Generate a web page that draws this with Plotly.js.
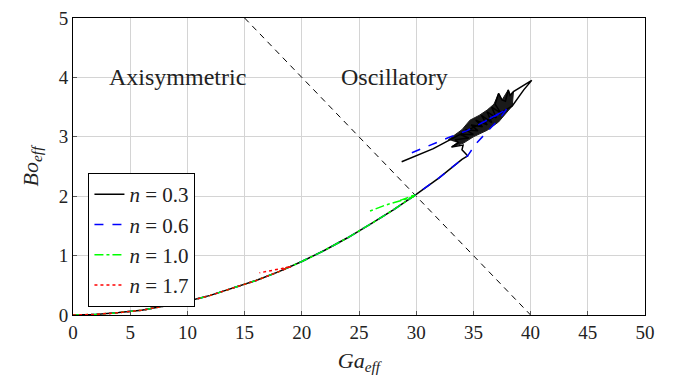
<!DOCTYPE html>
<html>
<head>
<meta charset="utf-8">
<script src="https://cdn.plot.ly/plotly-3.0.1.min.js"></script>
<style>html,body{margin:0;padding:0;background:#fff;}#chart{width:674px;height:377px;}</style>
</head>
<body>
<div id="chart"></div>
<script>
// Common steady branch
const curveGa = [0, 2, 4, 6, 8, 10, 12, 14, 16, 18, 19.1, 20, 22, 24, 26, 28, 30, 32, 34, 34.5];
const curveBo = [0, 0.01, 0.04, 0.08, 0.15, 0.23, 0.33, 0.45, 0.58, 0.73, 0.82, 0.9, 1.09, 1.3, 1.53, 1.77, 2.03, 2.31, 2.62, 2.68];

// n = 0.3 (black) oscillatory part after the steady branch
const blackTailGa = [34.0, 34.1, 33.1, 33.7, 33.4, 34.6, 33.8, 35.0, 34.3, 35.4, 34.8, 35.8, 35.2, 36.2, 35.7, 36.6, 36.2, 37.0, 36.6, 37.4, 36.9, 37.2, 37.5, 37.8, 38.05, 38.2, 38.5, 40.1, 39.4, 38.4, 37.9, 36.5, 35.0, 33.5, 31.5, 28.73];
const blackTailBo = [2.78, 2.86, 2.83, 2.90, 2.95, 2.98, 3.04, 3.04, 3.12, 3.10, 3.20, 3.17, 3.28, 3.20, 3.36, 3.24, 3.42, 3.32, 3.50, 3.40, 3.55, 3.73, 3.62, 3.60, 3.79, 3.70, 3.76, 3.95, 3.79, 3.52, 3.46, 3.30, 3.16, 3.00, 2.80, 2.58];
// envelope of the dense oscillation band of n = 0.3
const blobGa = [32.8, 34.0, 34.7, 35.5, 36.2, 36.8, 37.2, 37.5, 38.05, 38.2, 38.5, 38.4, 37.2, 36.2, 35.0, 34.1, 33.1, 33.6];
const blobBo = [2.95, 3.12, 3.28, 3.36, 3.45, 3.55, 3.73, 3.62, 3.79, 3.70, 3.76, 3.52, 3.25, 3.11, 3.00, 2.89, 2.83, 2.90];

// n = 0.6 (blue)
const blueTailGa = [35.2, 36.0, 36.8, 37.4, 37.9, 36.4, 37.7, 35.6, 37.2, 34.4, 33.0, 31.5, 29.6];
const blueTailBo = [2.88, 3.04, 3.20, 3.33, 3.47, 3.30, 3.44, 3.22, 3.38, 3.10, 3.00, 2.88, 2.73];

// n = 1.0 (green): steady branch up to Ga = 30, then
const greenTailGa = [28.6, 29.8, 28.0, 29.5, 27.3, 25.96];
const greenTailBo = [1.93, 1.99, 1.89, 1.97, 1.85, 1.75];

// n = 1.7 (red): steady branch up to Ga = 19.1, then
const redTailGa = [18.2, 19.0, 17.3, 16.3];
const redTailBo = [0.78, 0.81, 0.745, 0.71];

// Boundary between regimes
const boundaryGa = [15, 40];
const boundaryBo = [5, 0];

const seriesNames = ['<i>n</i> = 0.3', '<i>n</i> = 0.6', '<i>n</i> = 1.0', '<i>n</i> = 1.7'];
const regionLabels = ['Axisymmetric', 'Oscillatory'];
const regionGa = [9.1, 28.1];
const regionBo = [4.0, 4.0];

function upTo(limit) {
  const gx = [], gy = [];
  for (let i = 0; i < curveGa.length; i++) {
    if (curveGa[i] <= limit + 1e-9) { gx.push(curveGa[i]); gy.push(curveBo[i]); }
  }
  return [gx, gy];
}

const [bx, by] = upTo(34.5);
const [ux, uy] = upTo(34.5);
const [gx, gy] = upTo(30);
const [rx, ry] = upTo(19.1);

const serif = 'Liberation Serif, DejaVu Serif, serif';

const traces = [
  {x: boundaryGa, y: boundaryBo, mode: 'lines', line: {color: '#000', width: 1, dash: '6px,5px'}, showlegend: false, hoverinfo: 'skip'},
  {x: blobGa, y: blobBo, mode: 'lines', fill: 'toself', fillcolor: '#1a1a1a', line: {color: '#1a1a1a', width: 1}, showlegend: false, hoverinfo: 'skip'},
  {x: bx.concat(blackTailGa), y: by.concat(blackTailBo), mode: 'lines', name: seriesNames[0], line: {color: '#000000', width: 1.5}},
  {x: ux.concat(blueTailGa), y: uy.concat(blueTailBo), mode: 'lines', name: seriesNames[1], line: {color: '#0000ff', width: 1.5, dash: 'dash'}},
  {x: gx.concat(greenTailGa), y: gy.concat(greenTailBo), mode: 'lines', name: seriesNames[2], line: {color: '#00ff00', width: 1.5, dash: 'dashdot'}},
  {x: rx.concat(redTailGa), y: ry.concat(redTailBo), mode: 'lines', name: seriesNames[3], line: {color: '#ff0000', width: 1.5, dash: 'dot'}}
];

const layout = {
  width: 674, height: 377,
  margin: {l: 73, r: 29, t: 18, b: 62},
  paper_bgcolor: '#fff', plot_bgcolor: '#fff',
  font: {family: serif, size: 19, color: '#222'},
  xaxis: {
    range: [0, 50], dtick: 5, tick0: 0,
    showgrid: true, gridcolor: '#d4d4d4', gridwidth: 1,
    zeroline: false, showline: true, linecolor: '#000', linewidth: 1, mirror: true,
    ticks: 'inside', ticklen: 4, tickcolor: '#555',
    tickfont: {family: serif, size: 19, color: '#222'},
    title: {text: '<i>Ga</i><sub><i>eff</i></sub>', font: {family: serif, size: 22, color: '#222'}, standoff: 10}
  },
  yaxis: {
    range: [0, 5], dtick: 1, tick0: 0,
    showgrid: true, gridcolor: '#d4d4d4', gridwidth: 1,
    zeroline: false, showline: true, linecolor: '#000', linewidth: 1, mirror: true,
    ticks: 'inside', ticklen: 4, tickcolor: '#555',
    tickfont: {family: serif, size: 19, color: '#222'},
    title: {text: '<i>Bo</i><sub><i>eff</i></sub>', font: {family: serif, size: 22, color: '#222'}, standoff: 14}
  },
  legend: {
    x: 0.027, y: 0.478, xanchor: 'left', yanchor: 'top',
    bgcolor: '#fff', bordercolor: '#000', borderwidth: 1,
    font: {family: serif, size: 21, color: '#222'}
  },
  annotations: regionLabels.map((t, i) => ({
    x: regionGa[i], y: regionBo[i], xref: 'x', yref: 'y', text: t, showarrow: false,
    font: {family: serif, size: 24, color: '#222'}, xanchor: 'center', yanchor: 'middle'
  }))
};

Plotly.newPlot('chart', traces, layout, {displayModeBar: false, staticPlot: true});
</script>
</body>
</html>
